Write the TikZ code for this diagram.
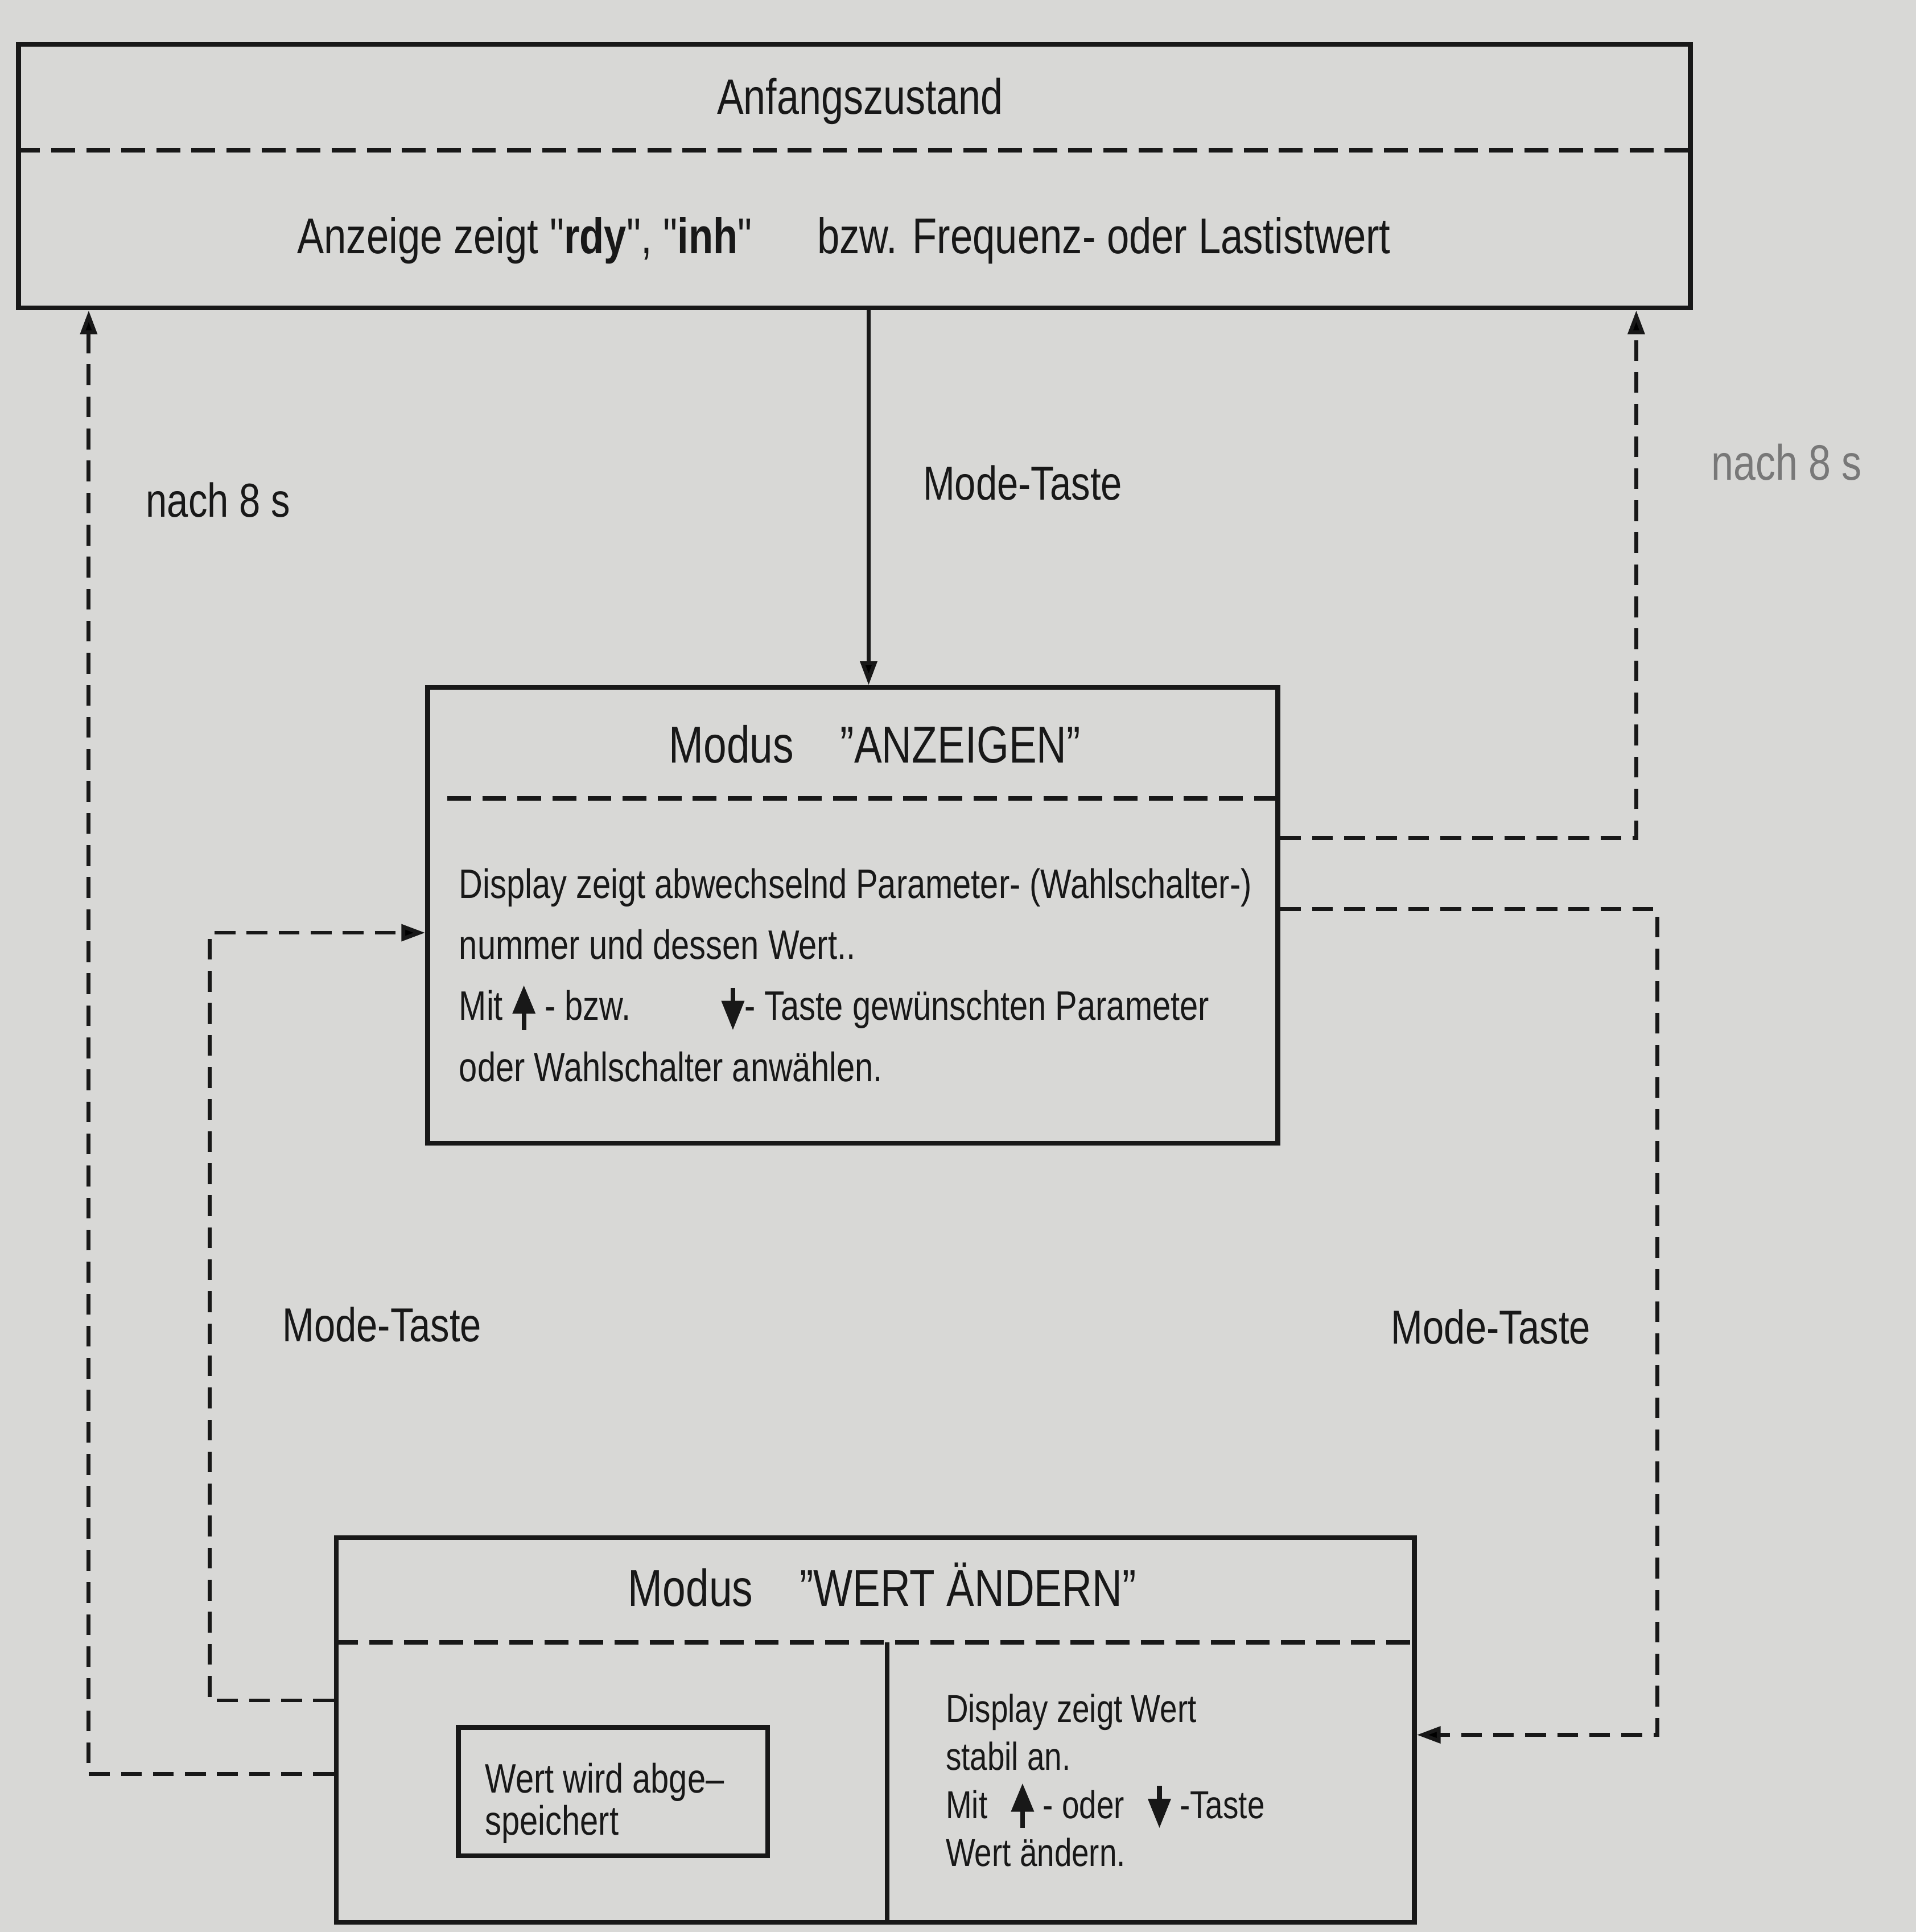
\documentclass[tikz,border=0pt]{standalone}
\usepackage{fontspec}
\setmainfont{Liberation Sans}[FakeStretch=0.8]
\newfontfamily\qfont{Liberation Sans}[FakeStretch=0.8,Ligatures=TeXOff]
\usetikzlibrary{arrows.meta,calc}
\definecolor{paper}{RGB}{216,216,214}
\definecolor{ink}{RGB}{24,24,24}
\definecolor{faded}{RGB}{120,120,120}
\newcommand{\upsym}{\tikz[baseline=0pt,x=1pt,y=1pt]{\fill[ink] (0,8)--(-2.7,1.5)--(2.7,1.5)--cycle; \draw[ink,line width=1.1pt] (0,2)--(0,-2.2);}}
\newcommand{\downsym}{\tikz[baseline=0pt,x=1pt,y=1pt]{\draw[ink,line width=1.1pt] (0,7.5)--(0,4); \fill[ink] (0,-2.2)--(-2.7,4.5)--(2.7,4.5)--cycle;}}
\newcommand{\sq}{{\qfont"}}
\begin{document}
\begin{tikzpicture}[
  box/.style={draw=ink, line width=1.1pt, inner sep=0pt},
  sep/.style={draw=ink, line width=1.1pt, dash pattern=on 5.5pt off 2.6pt},
  conn/.style={draw=ink, line width=0.9pt},
  dconn/.style={conn, dash pattern=on 4.8pt off 2.6pt},
  tip/.style={-{Triangle[length=5.5pt,width=3.8pt]}},
  lbl/.style={text=ink, font=\fontsize{11}{13}\selectfont, inner sep=0pt},
  title/.style={text=ink, font=\fontsize{12}{14}\selectfont, inner sep=0pt},
  body/.style={text=ink, inner sep=0pt, anchor=north west, align=left}
]
\fill[paper] (0,0) rectangle (15.55,-15.68);
\useasboundingbox (0,0) rectangle (15.55,-15.68);

% boxes
\node[box, minimum width=13.57cm, minimum height=2.14cm] (top) at (6.935,-1.43) {};
\node[box, minimum width=6.90cm, minimum height=3.70cm] (mid) at (6.92,-7.43) {};
\node[box, minimum width=8.75cm, minimum height=3.12cm] (bot) at (7.105,-14.04) {};
\node[box, minimum width=2.51cm, minimum height=1.04cm] (inner) at (4.975,-14.54) {};

% separators
\coordinate (s1) at (0,-1.22);
\draw[sep] (top.west |- s1) -- (top.east |- s1);
\coordinate (s2) at (3.63,-6.48);
\draw[sep] (s2) -- (mid.east |- s2);
\coordinate (s3) at (0,-13.33);
\draw[sep] (bot.west |- s3) -- (bot.east |- s3);
\coordinate (dv) at (7.20,-13.33);
\draw[draw=ink, line width=1.1pt] (dv) -- (dv |- bot.south);

% texts
\node[title, font=\fontsize{11.5}{14}\selectfont] (t1) at (6.98,-0.82) {Anfangszustand};
\node[lbl, font=\fontsize{11.6}{14}\selectfont] (t2) at (6.85,-1.95) {Anzeige zeigt \sq\textbf{rdy}\sq, \sq\textbf{inh}\sq\hspace{1.3em}bzw. Frequenz- oder Lastistwert};

\node[title] (mt) at (7.10,-6.04) {Modus\hspace{0.9em}"ANZEIGEN"};
\node[body, font=\fontsize{9.5}{14.1}\selectfont] (mb) at (3.72,-7.04)
  {Display zeigt abwechselnd Parameter- (Wahlschalter-)\\
   nummer und dessen Wert..\\
   Mit \upsym\ - bzw.\hspace{2.2em}\downsym- Taste gewünschten Parameter\\
   oder Wahlschalter anwählen.};

\node[title] (bt) at (7.16,-12.86) {Modus\hspace{0.9em}"WERT ÄNDERN"};
\node[body, font=\fontsize{9.5}{9.8}\selectfont] (it) at (3.93,-14.30) {Wert wird abge–\\speichert};
\node[body, font=\fontsize{9}{11.1}\selectfont] (br) at (7.67,-13.74)
  {Display zeigt Wert\\
   stabil an.\\
   Mit\hspace{0.6em}\upsym\ - oder\hspace{0.6em}\downsym\ -Taste\\
   Wert ändern.};

% labels
\node[lbl] (l1) at (8.30,-3.92) {Mode-Taste};
\node[lbl] (l2) at (1.77,-4.06) {nach 8 s};
\node[lbl, text=faded, font=\fontsize{11.5}{13}\selectfont] (l3) at (14.50,-3.75) {nach 8 s};
\node[lbl] (l4) at (3.10,-10.75) {Mode-Taste};
\node[lbl] (l5) at (12.10,-10.77) {Mode-Taste};

% connectors
\coordinate (c1) at (7.05,0);
\draw[conn, tip] (top.south -| c1) -- (mid.north -| c1);

\coordinate (c2) at (0.72,-14.40);
\draw[dconn, tip] (bot.west |- c2) -- (c2) -- (c2 |- top.south);

\coordinate (c3a) at (1.70,-13.80);
\coordinate (c3b) at (1.70,-7.57);
\draw[dconn, tip] (bot.west |- c3a) -- (c3a) -- (c3b) -- (c3b -| mid.west);

\coordinate (c4) at (13.28,-6.80);
\draw[dconn, tip] (mid.east |- c4) -- (c4) -- (c4 |- top.south);

\coordinate (c5a) at (13.45,-7.38);
\coordinate (c5b) at (13.45,-14.08);
\draw[dconn, tip] (mid.east |- c5a) -- (c5a) -- (c5b) -- (c5b -| bot.east);
\end{tikzpicture}
\end{document}
